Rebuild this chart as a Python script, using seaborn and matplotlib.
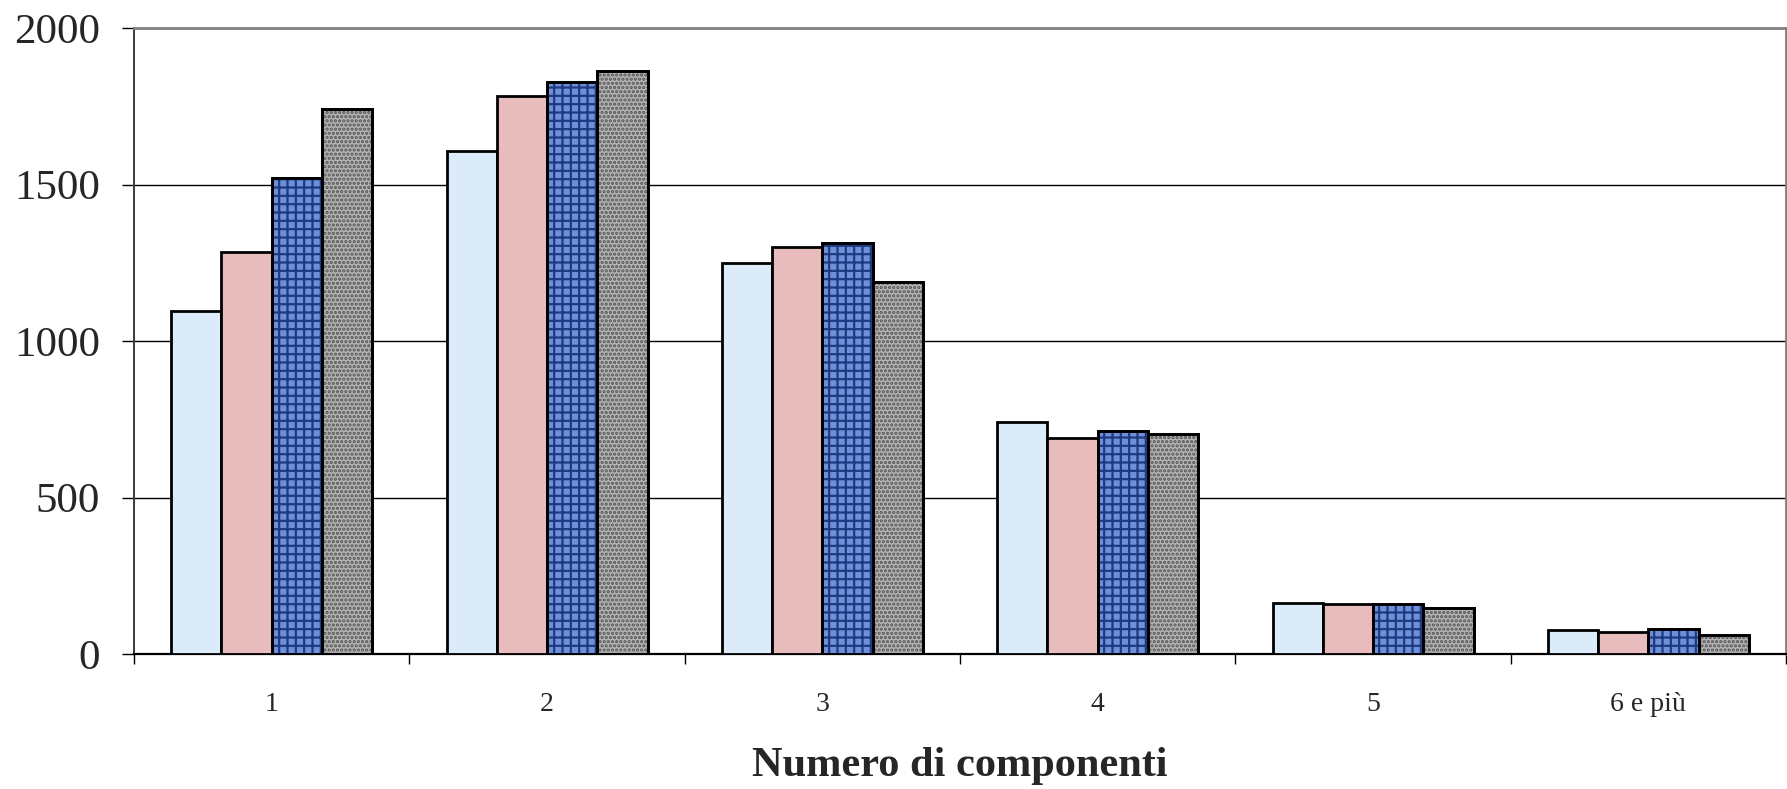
import matplotlib
matplotlib.use('Agg')
import numpy as np
import pandas as pd
import matplotlib.pyplot as plt
from matplotlib.patches import Rectangle
from matplotlib.ticker import FixedLocator
import seaborn as sns


categories = ['1', '2', '3', '4', '5', '6 e più']
series_names = ['Serie 1', 'Serie 2', 'Serie 3', 'Serie 4']
serie_1 = [1097, 1608, 1249, 742, 163, 77]
serie_2 = [1284, 1783, 1299, 689, 159, 71]
serie_3 = [1520, 1826, 1314, 712, 159, 79]
serie_4 = [1740, 1862, 1188, 703, 148, 61]
y_ticks = [0, 500, 1000, 1500, 2000]

colors = ['#DCEBF9', '#E8BCBC', '#6F90D8', '#B4B4B4']


def build_frame():
    rows = []
    for name, vals in zip(series_names, [serie_1, serie_2, serie_3, serie_4]):
        for cat, v in zip(categories, vals):
            rows.append({'categoria': cat, 'serie': name, 'valore': v})
    return pd.DataFrame(rows)


def main():
    sns.set_style('white')
    plt.rcParams['font.family'] = ['Liberation Serif', 'DejaVu Serif']
    plt.rcParams['hatch.linewidth'] = 1.6

    df = build_frame()

    fig = plt.figure(figsize=(17.87, 7.89), dpi=100)
    ax = fig.add_axes([0.075, 0.171, 0.9245, 0.7935])

    sns.barplot(data=df, x='categoria', y='valore', hue='serie',
                order=categories, hue_order=series_names,
                palette=colors, saturation=1, width=0.73, gap=0,
                edgecolor='black', linewidth=2.0, legend=False,
                ax=ax, zorder=3)

    # textures for the last two series
    textures = {2: ('++', '#1E3A80'), 3: ('....', '#555555')}
    for idx, (hatch, hcol) in textures.items():
        for bar in ax.containers[idx]:
            ax.add_patch(Rectangle(bar.get_xy(), bar.get_width(), bar.get_height(),
                                   fill=False, hatch=hatch, edgecolor=hcol,
                                   linewidth=0, zorder=3.5))
        for bar in ax.containers[idx]:
            ax.add_patch(Rectangle(bar.get_xy(), bar.get_width(), bar.get_height(),
                                   fill=False, edgecolor='black',
                                   linewidth=2.0, zorder=3.6))

    ax.set_ylim(0, 2000)
    ax.set_xlim(-0.5, len(categories) - 0.5)
    ax.set_yticks(y_ticks)
    ax.set_yticklabels([str(t) for t in y_ticks])
    ax.yaxis.grid(True, color='black', linewidth=1.0, zorder=0)
    ax.set_axisbelow(True)

    ax.xaxis.set_minor_locator(FixedLocator(np.arange(-0.5, len(categories), 1.0)))
    ax.tick_params(axis='x', which='major', length=0, pad=27, labelsize=20)
    ax.tick_params(axis='x', which='minor', length=7, width=1.0,
                   direction='out', color='black', bottom=True)
    ax.tick_params(axis='y', which='major', length=8.5, width=1.0,
                   direction='out', color='black', left=True, pad=16, labelsize=31)

    for side in ['top', 'right']:
        ax.spines[side].set_color('#808080')
        ax.spines[side].set_linewidth(2.0)
    ax.spines['left'].set_color('#3A3A3A')
    ax.spines['left'].set_linewidth(1.4)
    ax.spines['bottom'].set_color('black')
    ax.spines['bottom'].set_linewidth(1.6)

    ax.set_ylabel('')
    ax.set_xlabel('Numero di componenti', fontsize=30.5, fontweight='bold', labelpad=22)

    fig.savefig('out.png', dpi=100)
    plt.close(fig)


if __name__ == '__main__':
    main()
